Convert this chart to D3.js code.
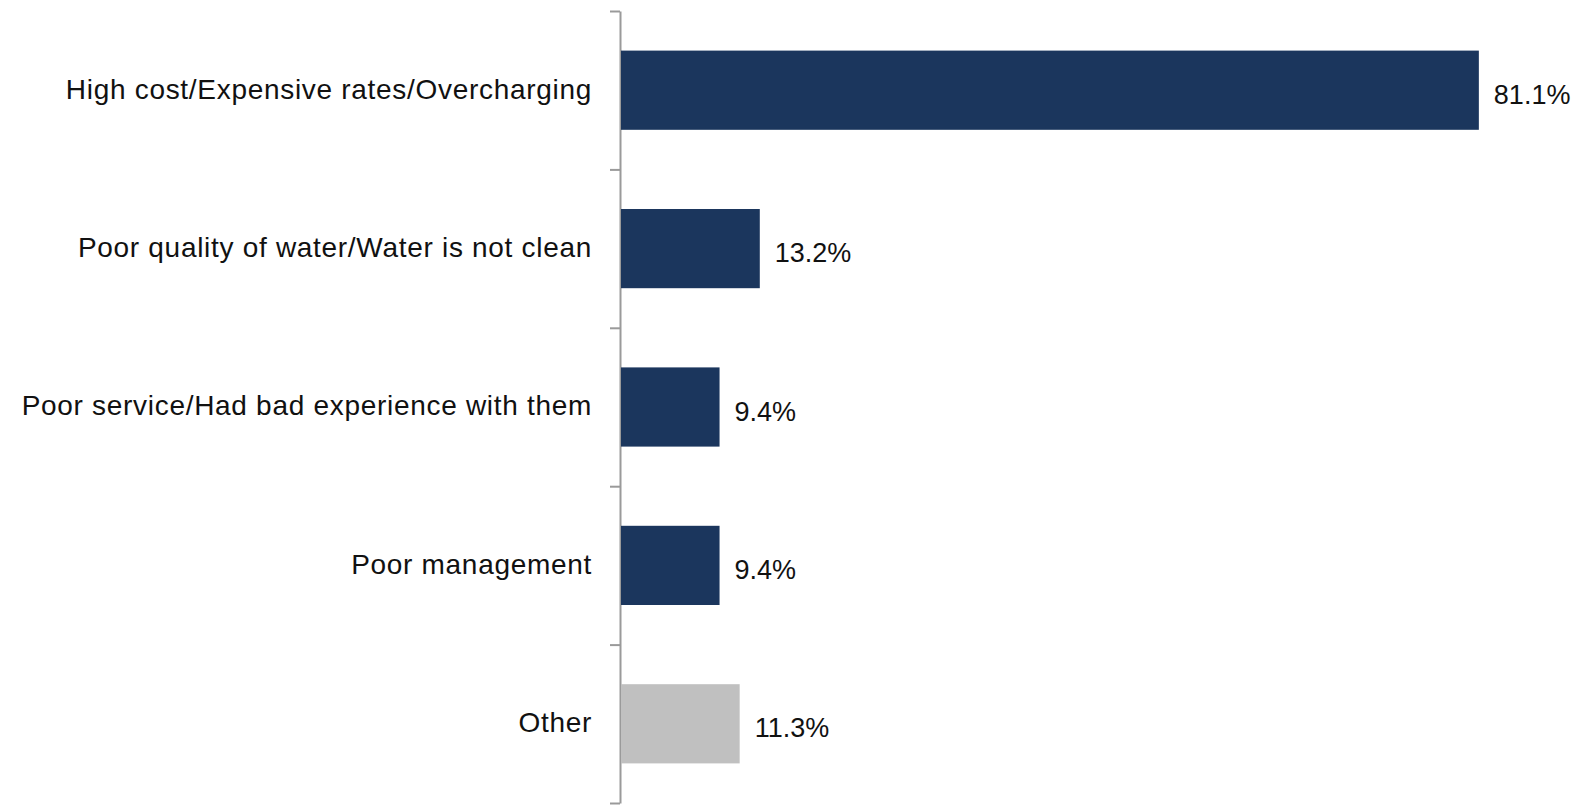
<!DOCTYPE html>
<html>
<head>
<meta charset="utf-8">
<script src="https://cdn.jsdelivr.net/npm/d3@7"></script>
<style>
  body { margin: 0; background: #fff; }
  text { font-family: "Liberation Sans", Arial, Helvetica, sans-serif; }
</style>
</head>
<body>
<div id="chart-area"></div>
<script>
// data
var categories = [
    "High cost/Expensive rates/Overcharging",
    "Poor quality of water/Water is not clean",
    "Poor service/Had bad experience with them",
    "Poor management",
    "Other"
];
var values = [81.1, 13.2, 9.4, 9.4, 11.3];
var colors = ["#1b365d", "#1b365d", "#1b365d", "#1b365d", "#c0c0c0"];

var width = 1587, height = 805;
var axisX = 620, plotTop = 11, plotBottom = 803;

var svg = d3.select("#chart-area").append("svg")
    .attr("width", width)
    .attr("height", height);

var x = d3.scaleLinear().domain([0, 100]).range([axisX, axisX + 1059]);

var y = d3.scaleBand()
    .domain(categories)
    .range([plotTop, plotBottom])
    .paddingInner(0.5)
    .paddingOuter(0.25);

// axis with ticks between categories
var yTicks = d3.scaleLinear().domain([0, categories.length]).range([plotTop, plotBottom]);
var axis = svg.append("g")
    .attr("transform", "translate(" + axisX + ",0)")
    .call(d3.axisLeft(yTicks)
        .tickValues(d3.range(categories.length + 1))
        .tickFormat("")
        .tickSize(10)
        .tickSizeOuter(0));
axis.selectAll("path, line")
    .attr("stroke", "#9a9a9a")
    .attr("stroke-width", 2);

var bars = svg.selectAll(".bar").data(values);

bars.enter().append("rect")
    .attr("class", "bar")
    .attr("x", x(0) + 1)
    .attr("y", (d, i) => y(categories[i]))
    .attr("width", (d) => x(d) - x(0) - 1)
    .attr("height", y.bandwidth())
    .attr("fill", (d, i) => colors[i]);

// category labels
svg.selectAll(".cat").data(categories).enter().append("text")
    .attr("class", "cat")
    .attr("x", axisX - 28)
    .attr("y", (d) => y(d) + y.bandwidth() / 2)
    .attr("dy", "0.3em")
    .attr("text-anchor", "end")
    .attr("font-size", 28)
    .attr("letter-spacing", 0.7)
    .attr("fill", "#111")
    .text((d) => d);

// value labels
svg.selectAll(".val").data(values).enter().append("text")
    .attr("class", "val")
    .attr("x", (d) => x(d) + 15)
    .attr("y", (d, i) => y(categories[i]) + y.bandwidth() / 2)
    .attr("dy", "0.5em")
    .attr("font-size", 27)
    .attr("fill", "#111")
    .text((d) => d.toFixed(1) + "%");
</script>
</body>
</html>
